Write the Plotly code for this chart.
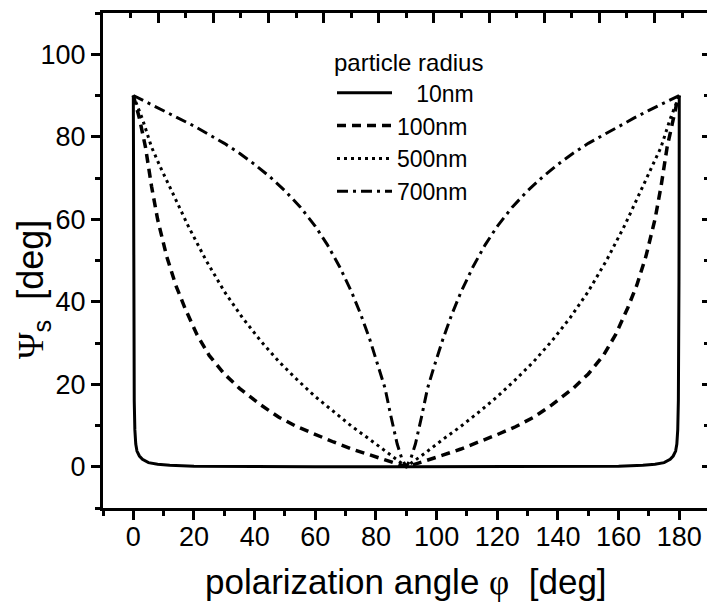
import plotly.graph_objects as go

# ---- data ----
phi_10 = [0, 0.05, 0.1, 0.2, 0.3, 0.5, 0.8, 1.2, 2, 3, 5, 8, 12, 20, 40, 60, 90,
          120, 140, 160, 168, 172, 175, 177, 178, 178.8, 179.2, 179.5, 179.7, 179.8, 179.9, 179.95, 180]
psi_10 = [90, 62, 45, 25, 16, 9, 5.5, 3.8, 2.6, 1.8, 1.0, 0.6, 0.35, 0.15, 0.05, 0, 0,
          0, 0.05, 0.15, 0.35, 0.6, 1.0, 1.8, 2.6, 3.8, 5.5, 9, 16, 25, 45, 62, 90]

phi_100 = [0, 1, 2, 4, 6, 8, 11, 14, 17, 21, 25, 30, 35, 42, 48, 54, 60, 66, 72, 78, 84, 88, 90,
           92, 96, 102, 108, 114, 120, 126, 132, 138, 145, 150, 155, 159, 163, 166, 169, 172, 174, 176, 178, 179, 180]
psi_100 = [90, 87.5, 84.5, 77.5, 68, 60, 51, 44, 38.5, 32, 27, 22.5, 19, 15, 12, 9.7, 7.8, 6.0, 4.3, 2.8, 1.3, 0.4, 0,
           0.4, 1.3, 2.8, 4.3, 6.0, 7.8, 9.7, 12, 15, 19, 22.5, 27, 32, 38.5, 44, 51, 60, 68, 77.5, 84.5, 87.5, 90]

phi_500 = [0, 1.5, 3, 6, 9, 13, 18, 24, 30, 36, 42, 48, 54, 60, 66, 72, 78, 84, 88, 90,
           92, 96, 102, 108, 114, 120, 126, 132, 138, 144, 150, 156, 162, 167, 171, 174, 177, 178.5, 180]
psi_500 = [90, 87.2, 84.3, 77.5, 72.5, 66.3, 58.5, 50, 42.5, 36.1, 30.5, 25.5, 21.1, 17.0, 13.3, 9.8, 6.6, 3.2, 1.1, 0,
           1.1, 3.2, 6.6, 9.8, 13.3, 17.0, 21.1, 25.5, 30.5, 36.1, 42.5, 50, 58.5, 66.3, 72.5, 77.5, 84.3, 87.2, 90]

phi_700 = [0, 5, 10, 15, 20, 25, 30, 35, 40, 45, 50, 55, 60, 64, 68, 72, 75, 78, 81, 83, 85, 87, 88.5, 90,
           91.5, 93, 95, 97, 99, 102, 105, 108, 112, 116, 120, 125, 130, 135, 140, 145, 150, 155, 160, 165, 170, 175, 180]
psi_700 = [90, 88.2, 86.4, 84.5, 82.6, 80.5, 78.4, 76.0, 73.3, 70.3, 66.9, 63.0, 58.3, 53.8, 48.5, 42.3, 36.9, 30.8, 23.9, 19.0, 12, 5.5, 2, 0,
           2, 5.5, 12, 19.0, 23.9, 30.8, 36.9, 42.3, 48.5, 53.8, 58.3, 63.0, 66.9, 70.3, 73.3, 76.0, 78.4, 80.5, 82.6, 84.5, 86.4, 88.2, 90]

series_names = ["\u00a0\u00a0\u00a010nm", "100nm", "500nm", "700nm"]
legend_title = "particle radius"
x_title = "polarization angle <span style='font-family:Liberation Serif'>\u03c6</span>\u00a0\u00a0[deg]"
y_title = "<span style='font-family:Liberation Serif'>\u03a8</span><sub>s</sub>\u00a0\u00a0[deg]"

FONT = "Liberation Sans, Arial, sans-serif"

fig = go.Figure()
styles = [
    dict(color="black", width=3, dash="solid"),
    dict(color="black", width=3.5, dash="9px,6px"),
    dict(color="black", width=3, dash="3px,4px"),
    dict(color="black", width=3, dash="11px,5px,3px,5px"),
]
for xs, ys, name, st in zip([phi_10, phi_100, phi_500, phi_700],
                            [psi_10, psi_100, psi_500, psi_700],
                            series_names, styles):
    fig.add_trace(go.Scatter(x=xs, y=ys, mode="lines", name=name, line=st))

# dummy traces to activate the mirror axes
fig.add_trace(go.Scatter(x=[None], y=[None], xaxis="x2", yaxis="y", showlegend=False, hoverinfo="skip"))
fig.add_trace(go.Scatter(x=[None], y=[None], xaxis="x", yaxis="y2", showlegend=False, hoverinfo="skip"))

W, H = 707, 604
ml, mr, mt, mb = 103, 0, 13, 96
plot_w = W - ml - mr
plot_h = H - mt - mb
x_end = -10 + plot_w / 3.033

fig.update_layout(
    width=W, height=H,
    margin=dict(l=ml, r=mr, t=mt, b=mb),
    paper_bgcolor="white", plot_bgcolor="white",
    font=dict(family=FONT, color="black", size=27),
    xaxis=dict(range=[-10, x_end], tick0=0, dtick=20, ticks="outside", ticklen=9, tickwidth=2.5,
               tickcolor="black", showline=True, linewidth=3, linecolor="black", ticklabelstandoff=-6,
               showgrid=False, zeroline=False, tickfont=dict(size=27, family=FONT),
               minor=dict(tick0=0, dtick=10, ticks="outside", ticklen=5, tickwidth=2.5, tickcolor="black")),
    yaxis=dict(range=[-10, 110], tick0=0, dtick=20, ticks="outside", ticklen=9, tickwidth=2.5,
               tickcolor="black", showline=True, linewidth=3, linecolor="black",
               showgrid=False, zeroline=False, tickfont=dict(size=27, family=FONT),
               minor=dict(tick0=0, dtick=10, ticks="outside", ticklen=5, tickwidth=2.5, tickcolor="black")),
    xaxis2=dict(overlaying="x", anchor="y", side="top", range=[0, plot_w / 55.15], tick0=0, dtick=1,
                ticks="inside", ticklen=10, tickwidth=2.5, tickcolor="black", showticklabels=False,
                showline=True, linewidth=3, linecolor="black", showgrid=False, zeroline=False,
                minor=dict(tick0=0, dtick=0.5, ticks="inside", ticklen=5, tickwidth=2.5, tickcolor="black")),
    yaxis2=dict(overlaying="y", anchor="x", side="right", range=[-10, 110], tick0=0, dtick=20,
                ticks="inside", ticklen=5, tickwidth=2.5, tickcolor="black", showticklabels=False,
                showline=False, showgrid=False, zeroline=False,
                minor=dict(tick0=0, dtick=10, ticks="inside", ticklen=3, tickwidth=2.5, tickcolor="black")),
    legend=dict(x=(332 - ml) / plot_w, y=(H - mb - 40) / plot_h, xanchor="left", yanchor="top",
                bgcolor="rgba(0,0,0,0)", borderwidth=0, font=dict(size=23, family=FONT),
                title=dict(text=legend_title, font=dict(size=24, family=FONT)), itemwidth=55),
    showlegend=True,
    annotations=[
        dict(text=x_title, xref="paper", yref="paper", x=(406 - ml) / plot_w, y=-(582 - (H - mb)) / plot_h,
             xanchor="center", yanchor="middle", showarrow=False, font=dict(size=35, family=FONT)),
        dict(text=y_title, xref="paper", yref="paper", x=(33 - ml) / plot_w, y=((H - mb) - 290) / plot_h,
             xanchor="center", yanchor="middle", textangle=-90, showarrow=False, font=dict(size=36, family=FONT)),
    ],
)

fig.write_html("out.html")
